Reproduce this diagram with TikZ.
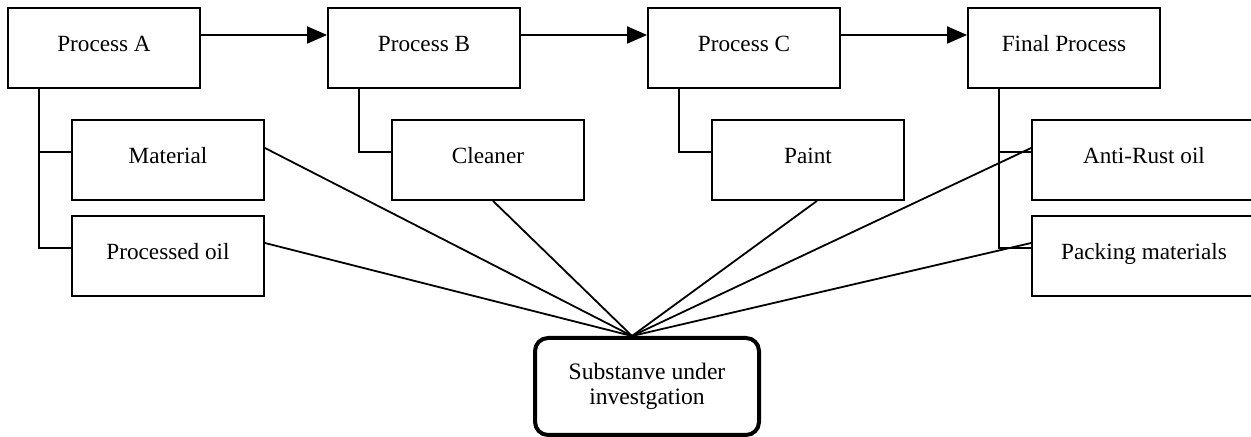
\documentclass[tikz,border=0pt]{standalone}
\usepackage{fontspec}
\setmainfont{Liberation Serif}
\usetikzlibrary{arrows.meta}
\begin{document}
\begin{tikzpicture}[x=0.5pt,y=-0.5pt,line width=0.9pt,
    box/.style={draw,minimum width=96pt,minimum height=40pt,inner sep=0pt,
      text height=8pt,text depth=4.5pt,font=\fontsize{11.6}{14}\selectfont},
    widebox/.style={box,minimum width=112pt},
    target/.style={draw,line width=2pt,rounded corners=6.5pt,minimum width=112pt,
      minimum height=48.5pt,align=center,font=\fontsize{11.8}{12.6}\selectfont},
    flow/.style={-{Triangle[length=10pt,width=8.5pt]}}]
  \useasboundingbox (0,0) rectangle (1251,437);
  % process chain
  \node[box] (pa) at (104,48) {Process A};
  \node[box] (pb) at (424,48) {Process B};
  \node[box] (pc) at (744,48) {Process C};
  \node[box] (pf) at (1064,48) {Final Process};
  \draw[flow] ([yshift=6.5pt]pa.east) -- ([yshift=6.5pt]pb.west);
  \draw[flow] ([yshift=6.5pt]pb.east) -- ([yshift=6.5pt]pc.west);
  \draw[flow] ([yshift=6.5pt]pc.east) -- ([yshift=6.5pt]pf.west);
  % inputs
  \node[box] (mat) at (168,160) {Material};
  \node[box] (oil) at (168,256) {Processed oil};
  \node[box] (cln) at (488,160) {Cleaner};
  \node[box] (pnt) at (808,160) {Paint};
  \node[widebox] (rust) at (1144,160) {Anti-Rust oil};
  \node[widebox] (pack) at (1144,256) {Packing materials};
  \draw (pa.south west) ++(16pt,0) |- ([yshift=4pt]oil.west);
  \draw ([yshift=4pt]mat.west) -- ++(-16pt,0);
  \draw (pb.south west) ++(16pt,0) |- ([yshift=4pt]cln.west);
  \draw (pc.south west) ++(16pt,0) |- ([yshift=4pt]pnt.west);
  \draw (pf.south west) ++(16pt,0) |- ([yshift=4pt]pack.west);
  \draw ([yshift=4pt]rust.west) -- ++(-16pt,0);
  % substance
  \node[target] (sub) at (647,386.5) {Substanve under\\investgation};
  \coordinate (meet) at ([xshift=-7.5pt]sub.north);
  \draw ([yshift=6pt]mat.east) -- (meet);
  \draw ([yshift=6.5pt]oil.east) -- (meet);
  \draw ([xshift=2.5pt]cln.south) -- (meet);
  \draw ([xshift=4.5pt]pnt.south) -- (meet);
  \draw ([yshift=6pt]rust.west) -- (meet);
  \draw ([yshift=6.5pt]pack.west) -- (meet);
\end{tikzpicture}
\end{document}
